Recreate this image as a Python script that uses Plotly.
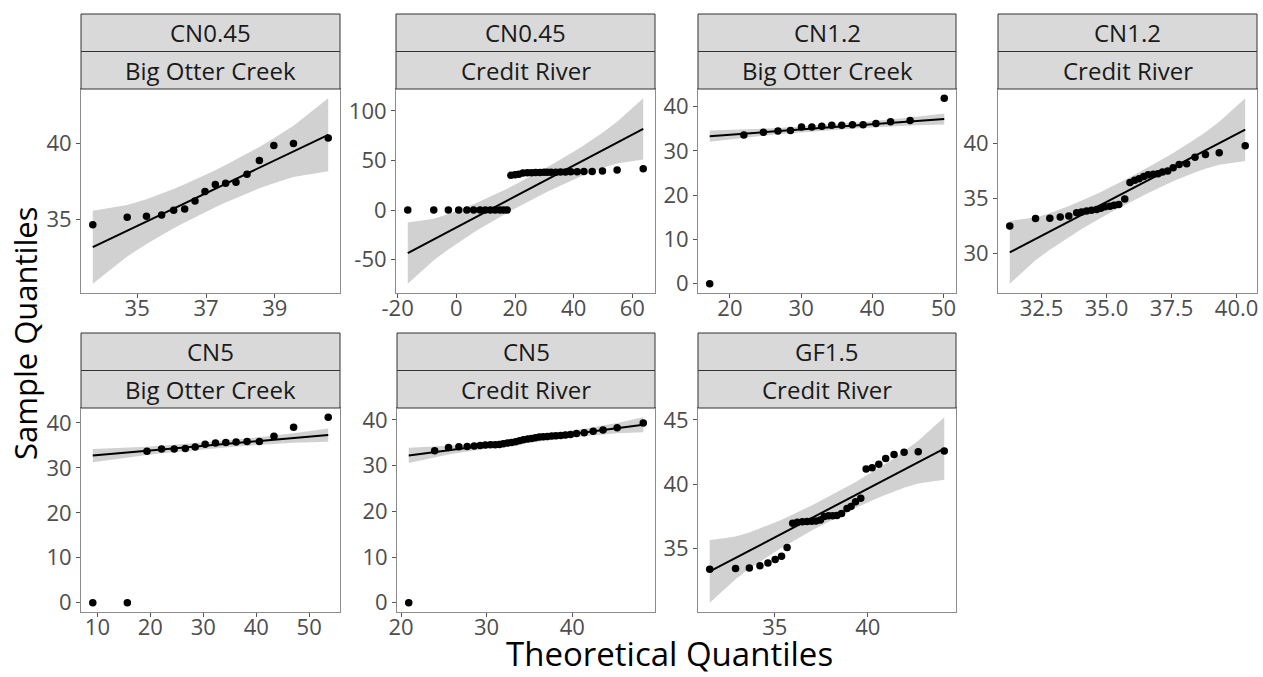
import numpy as np
import plotly.graph_objects as go
from statistics import NormalDist

# ---- data: theoretical quantiles (x) and sorted sample values (y) per facet ----
facet_top = ["CN0.45", "CN0.45", "CN1.2", "CN1.2", "CN5", "CN5", "GF1.5"]
facet_site = ["Big Otter Creek", "Credit River", "Big Otter Creek", "Credit River",
              "Big Otter Creek", "Credit River", "Credit River"]

x_cn045_boc = [33.71, 34.71, 35.27, 35.71, 36.06, 36.38, 36.68, 36.97,
               37.27, 37.57, 37.87, 38.19, 38.55, 38.97, 39.54, 40.55]
y_cn045_boc = [34.62, 35.11, 35.18, 35.27, 35.58, 35.66, 36.19, 36.81,
               37.28, 37.37, 37.43, 37.96, 38.87, 39.85, 39.98, 40.35]

x_cn045_cr = [-16.55, -7.7, -2.72, 0.8, 3.6, 5.9, 8.1, 9.9, 11.6, 13.2, 14.8, 16.1, 17.3,
              18.6, 20.0, 21.3, 22.7, 24.2, 25.6, 27.0, 28.5, 29.9, 31.0, 32.3, 33.9,
              35.5, 37.2, 39.0, 41.2, 43.5, 46.3, 49.8, 54.8, 63.7]
y_cn045_cr = [0, 0, 0, 0, 0, 0, 0, 0, 0, 0, 0, 0, 0,
              35.0, 35.7, 36.0, 37.3, 37.6, 37.7, 37.8, 37.9, 38.0, 38.0, 38.1, 38.2,
              38.3, 38.4, 38.5, 38.6, 38.8, 39.0, 39.5, 40.3, 41.7]

x_cn12_boc = [17.16, 21.95, 24.7, 26.74, 28.5, 30.05, 31.5, 32.9,
              34.3, 35.7, 37.2, 38.7, 40.5, 42.56, 45.3, 50.1]
y_cn12_boc = [0, 33.6, 34.2, 34.5, 34.6, 35.4, 35.4, 35.6,
              35.8, 35.8, 35.9, 35.9, 36.2, 36.6, 36.9, 41.9]

x_cn12_cr = [31.28, 32.27, 32.82, 33.22, 33.55, 33.85, 34.04, 34.23, 34.42, 34.62, 34.78,
             34.94, 35.13, 35.29, 35.47, 35.7, 35.9, 36.08, 36.25, 36.43, 36.6, 36.8,
             36.98, 37.15, 37.35, 37.56, 37.79, 38.08, 38.4, 38.8, 39.33, 40.33]
y_cn12_cr = [32.5, 33.17, 33.2, 33.32, 33.4, 33.7, 33.77, 33.86, 33.92, 34.0, 34.1,
             34.25, 34.3, 34.37, 34.45, 34.96, 36.45, 36.65, 36.8, 37.0, 37.15, 37.2,
             37.25, 37.4, 37.5, 37.8, 38.1, 38.15, 38.75, 39.0, 39.15, 39.8]

x_cn5_boc = [9.12, 15.65, 19.36, 22.12, 24.5, 26.6, 28.47, 30.35,
             32.3, 34.25, 36.2, 38.27, 40.6, 43.35, 47.06, 53.6]
y_cn5_boc = [0, 0, 33.7, 34.2, 34.2, 34.3, 34.67, 35.26,
             35.56, 35.63, 35.78, 35.85, 35.85, 37.04, 39.04, 41.26]

x_cn5_cr = [20.9, 23.93, 25.55, 26.76, 27.73, 28.55, 29.25, 29.85, 30.45, 31.0, 31.5,
            31.96, 32.45, 32.93, 33.4, 33.85, 34.3, 34.8, 35.25, 35.7, 36.15, 36.6,
            37.1, 37.6, 38.1, 38.65, 39.2, 39.8, 40.5, 41.4, 42.45, 43.6, 45.25, 48.3]
y_cn5_cr = [0, 33.25, 33.98, 34.13, 34.2, 34.28, 34.4, 34.5, 34.55, 34.57, 34.64,
            34.79, 34.93, 35.08, 35.23, 35.45, 35.67, 35.81, 35.96, 36.1, 36.25, 36.32,
            36.4, 36.47, 36.54, 36.62, 36.69, 36.84, 37.06, 37.2, 37.5, 37.8, 38.3, 39.33]

x_gf15_cr = [31.5, 32.89, 33.63, 34.2, 34.63, 35.02, 35.36, 35.66, 35.96, 36.21, 36.48,
             36.73, 36.98, 37.21, 37.45, 37.66, 37.89, 38.12, 38.34, 38.59, 38.88, 39.1,
             39.34, 39.62, 39.91, 40.23, 40.59, 40.96, 41.41, 41.95, 42.71, 44.11]
y_gf15_cr = [33.37, 33.42, 33.45, 33.63, 33.84, 34.12, 34.38, 35.05, 36.94, 37.02, 37.07,
             37.09, 37.1, 37.12, 37.2, 37.48, 37.53, 37.54, 37.56, 37.71, 38.1, 38.26,
             38.62, 38.9, 41.18, 41.28, 41.54, 42.0, 42.31, 42.47, 42.52, 42.57]

xs = [x_cn045_boc, x_cn045_cr, x_cn12_boc, x_cn12_cr, x_cn5_boc, x_cn5_cr, x_gf15_cr]
ys = [y_cn045_boc, y_cn045_cr, y_cn12_boc, y_cn12_cr, y_cn5_boc, y_cn5_cr, y_gf15_cr]

x_ticks = [[35, 37, 39], [-20, 0, 20, 40, 60], [20, 30, 40, 50], [32.5, 35.0, 37.5, 40.0],
           [10, 20, 30, 40, 50], [20, 30, 40], [35, 40]]
x_labels = [["35", "37", "39"], ["-20", "0", "20", "40", "60"], ["20", "30", "40", "50"],
            ["32.5", "35.0", "37.5", "40.0"], ["10", "20", "30", "40", "50"],
            ["20", "30", "40"], ["35", "40"]]
y_ticks = [[35, 40], [-50, 0, 50, 100], [0, 10, 20, 30, 40], [30, 35, 40],
           [0, 10, 20, 30, 40], [0, 10, 20, 30, 40], [35, 40, 45]]
y_labels = [["35", "40"], ["-50", "0", "50", "100"], ["0", "10", "20", "30", "40"],
            ["30", "35", "40"], ["0", "10", "20", "30", "40"], ["0", "10", "20", "30", "40"],
            ["35", "40", "45"]]

# ---- layout geometry (pixels) ----
W, H = 1263, 677
col_px = [(81, 340), (396, 655), (698, 956), (998, 1257),
          (81, 340), (397, 655), (698, 956)]
row_px = [(89, 293)] * 4 + [(408, 612)] * 3
STRIP_H = 37.5

norm = NormalDist()


def qq_band(x, y):
    """Quartile reference line with pointwise 95% normal band."""
    x = np.asarray(x, float)
    y = np.sort(np.asarray(y, float))
    n = len(y)
    a = 3 / 8 if n <= 10 else 0.5
    p = (np.arange(1, n + 1) - a) / (n + 1 - 2 * a)
    z = np.array([norm.inv_cdf(v) for v in p])
    s, m = np.polyfit(z, x, 1)
    q1, q3 = np.quantile(y, [0.25, 0.75])
    zq = norm.inv_cdf(0.75)
    slope = (q3 - q1) / (2 * zq * s)
    icpt = q1 - slope * (m - zq * s)
    fit = icpt + slope * x
    dens = np.array([norm.pdf(v) for v in z])
    se = slope * s / dens * np.sqrt(p * (1 - p) / n)
    crit = norm.inv_cdf(0.975)
    return fit, fit - crit * se, fit + crit * se


def px_to_fx(v):
    return v / W


def px_to_fy(v):
    return 1 - v / H


fig = go.Figure()
shapes, annotations = [], []
TICK_FONT = dict(family="Open Sans", size=22, color="#4D4D4D")
STRIP_FONT = dict(family="Open Sans", size=24, color="#1A1A1A")
BORDER = "#8C8C8C"

for i in range(7):
    k = "" if i == 0 else str(i + 1)
    xa, ya = "x" + k, "y" + k
    x = np.asarray(xs[i], float)
    y = np.asarray(ys[i], float)
    fit, lo, hi = qq_band(x, y)

    fig.add_trace(go.Scatter(x=x, y=lo, xaxis=xa, yaxis=ya, mode="lines",
                             line=dict(width=0, color="rgba(0,0,0,0)"),
                             showlegend=False, hoverinfo="skip"))
    fig.add_trace(go.Scatter(x=x, y=hi, xaxis=xa, yaxis=ya, mode="lines",
                             line=dict(width=0, color="rgba(0,0,0,0)"),
                             fill="tonexty", fillcolor="rgb(209,209,209)",
                             showlegend=False, hoverinfo="skip"))
    fig.add_trace(go.Scatter(x=[x.min(), x.max()],
                             y=[fit[np.argmin(x)], fit[np.argmax(x)]],
                             xaxis=xa, yaxis=ya, mode="lines",
                             line=dict(color="black", width=2), showlegend=False))
    fig.add_trace(go.Scatter(x=x, y=y, xaxis=xa, yaxis=ya, mode="markers",
                             marker=dict(color="black", size=7.5), showlegend=False))

    xspan = x.max() - x.min()
    ymin = min(lo.min(), y.min())
    ymax = max(hi.max(), y.max())
    yspan = ymax - ymin
    x0, x1 = col_px[i]
    y0, y1 = row_px[i]

    axis_common = dict(showgrid=False, zeroline=False, showline=True, mirror=True,
                       linecolor=BORDER, linewidth=1, ticks="outside", ticklen=4,
                       tickcolor="#555555", tickwidth=1, tickfont=TICK_FONT,
                       automargin=False)
    fig.layout["xaxis" + k] = dict(
        domain=[px_to_fx(x0), px_to_fx(x1)], anchor=ya,
        range=[x.min() - 0.05 * xspan, x.max() + 0.05 * xspan],
        tickmode="array", tickvals=x_ticks[i], ticktext=x_labels[i],
        ticklabelstandoff=-8, **axis_common)
    fig.layout["yaxis" + k] = dict(
        domain=[px_to_fy(y1), px_to_fy(y0)], anchor=xa,
        range=[ymin - 0.05 * yspan, ymax + 0.05 * yspan],
        tickmode="array", tickvals=y_ticks[i], ticktext=y_labels[i], **axis_common)

    # two-level facet strips
    for j, label in enumerate([facet_top[i], facet_site[i]]):
        top = y0 - STRIP_H * (2 - j)
        bot = top + STRIP_H
        shapes.append(dict(type="rect", xref="paper", yref="paper",
                           x0=px_to_fx(x0), x1=px_to_fx(x1),
                           y0=px_to_fy(bot), y1=px_to_fy(top),
                           fillcolor="#D9D9D9", line=dict(color="#333333", width=1)))
        annotations.append(dict(xref="paper", yref="paper",
                                x=px_to_fx((x0 + x1) / 2), y=px_to_fy((top + bot) / 2),
                                text=label, showarrow=False,
                                xanchor="center", yanchor="middle", font=STRIP_FONT))

annotations.append(dict(xref="paper", yref="paper", x=px_to_fx(669), y=0,
                        text="Theoretical Quantiles", showarrow=False,
                        xanchor="center", yanchor="bottom", borderpad=0,
                        font=dict(family="Open Sans", size=33, color="black")))
annotations.append(dict(xref="paper", yref="paper", x=px_to_fx(25), y=px_to_fy(334),
                        text="Sample Quantiles", showarrow=False, textangle=-90,
                        xanchor="center", yanchor="middle",
                        font=dict(family="Open Sans", size=31, color="black")))

fig.update_layout(width=W, height=H, margin=dict(l=0, r=0, t=0, b=0),
                  paper_bgcolor="white", plot_bgcolor="white",
                  shapes=shapes, annotations=annotations, showlegend=False)

fig.write_html("out.html")
